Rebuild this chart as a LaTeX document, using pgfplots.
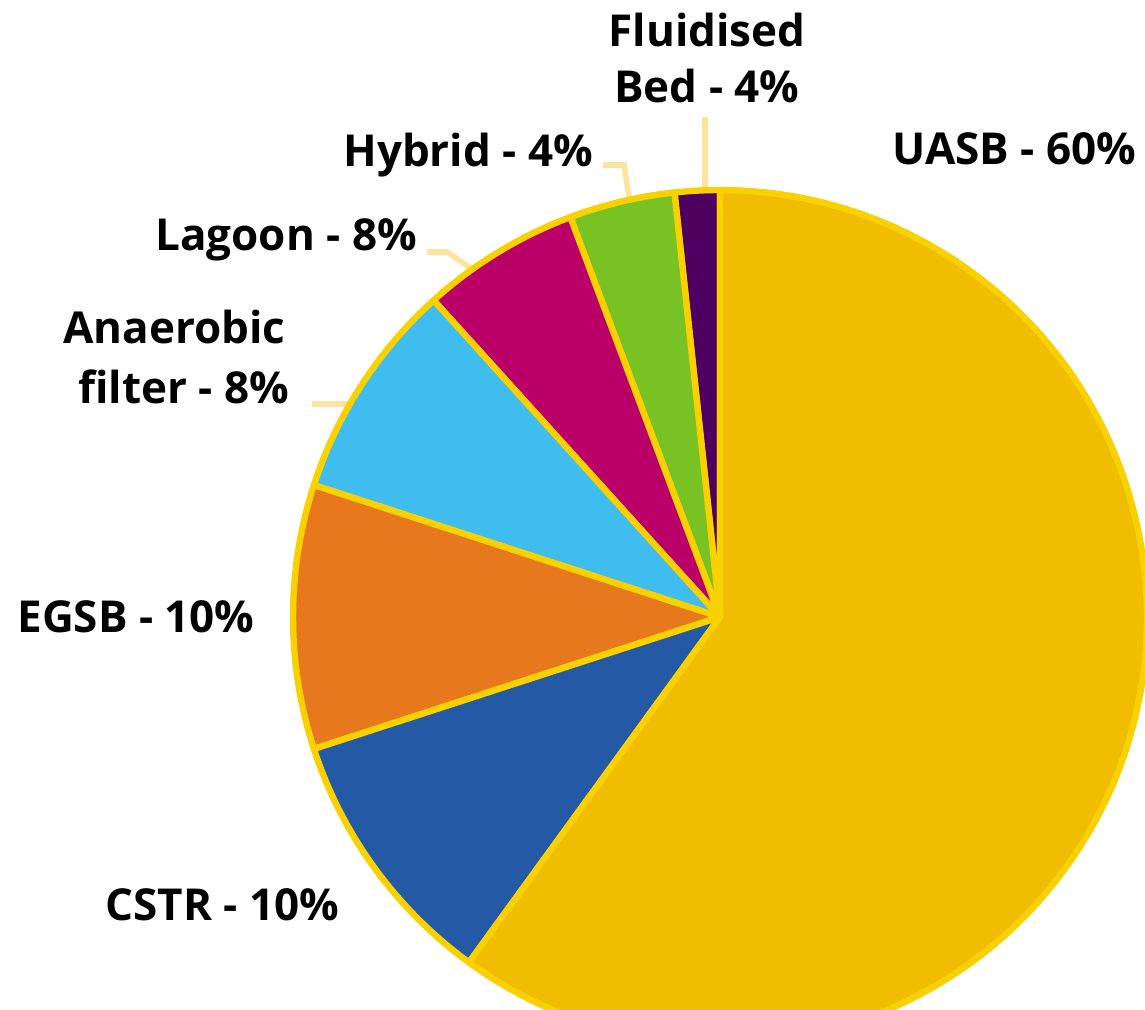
\documentclass[border=0pt]{standalone}
\usepackage{fontspec}
\setmainfont{Open Sans}
\usepackage{pgfplots}
\pgfplotsset{compat=1.18}
\definecolor{cuasb}{HTML}{F0BD00}
\definecolor{ccstr}{HTML}{245AA5}
\definecolor{cegsb}{HTML}{E8781E}
\definecolor{cana}{HTML}{3EBDEE}
\definecolor{clag}{HTML}{BA0068}
\definecolor{chyb}{HTML}{78C323}
\definecolor{cfluid}{HTML}{4D0060}
\definecolor{cborder}{HTML}{F9D100}
\definecolor{cleader}{HTML}{FBE3A0}
\tikzset{lbl/.style={inner sep=0pt,font=\fontsize{22}{28}\selectfont\bfseries}}
\begin{document}
\begin{tikzpicture}
\begin{axis}[x=0.5pt,y=0.5pt,xmin=0,xmax=1145,ymin=0,ymax=1009,
  hide axis,scale only axis,clip=true]
% leader lines
\addplot[cleader,line width=2.8pt,no marks] coordinates {(705,892) (705,815)};
\addplot[cleader,line width=2.8pt,no marks] coordinates {(603,844) (624,844) (629,812)};
\addplot[cleader,line width=2.8pt,no marks] coordinates {(427,757) (447,757) (472,740)};
\addplot[cleader,line width=2.8pt,no marks] coordinates {(312,605) (350,605)};
% pie slices (values in percent, counter-clockwise from the top)
\pgfplotsextra{
  \def\cx{720}\def\cy{392}\def\r{213.5pt}
  \gdef\s{90}
  \foreach \val/\col in {1.7/cfluid,4/chyb,6/clag,8.3/cana,10/cegsb,10/ccstr,60/cuasb} {
    \pgfmathsetmacro{\e}{\s+3.6*\val}
    \filldraw[fill=\col,draw=cborder,line width=3.2pt,line join=round]
      (axis cs:\cx,\cy) -- ++(\s:\r) arc[start angle=\s,end angle=\e,radius=\r] -- cycle;
    \xdef\s{\e}
  }
}
% labels
\node[lbl,anchor=base] at (axis cs:707,962) {Fluidised};
\node[lbl,anchor=base] at (axis cs:707,906) {Bed - 4\%};
\node[lbl,anchor=base west] at (axis cs:343,842) {Hybrid - 4\%};
\node[lbl,anchor=base west] at (axis cs:155,759) {Lagoon - 8\%};
\node[lbl,anchor=base west] at (axis cs:63,666) {Anaerobic};
\node[lbl,anchor=base west] at (axis cs:78,606) {filter - 8\%};
\node[lbl,anchor=base west] at (axis cs:892,844) {UASB - 60\%};
\node[lbl,anchor=base west] at (axis cs:17,377) {EGSB - 10\%};
\node[lbl,anchor=base west] at (axis cs:105,89) {CSTR - 10\%};
\end{axis}
\pgfresetboundingbox
\useasboundingbox (current axis.south west) rectangle (current axis.north east);
\end{tikzpicture}
\end{document}
